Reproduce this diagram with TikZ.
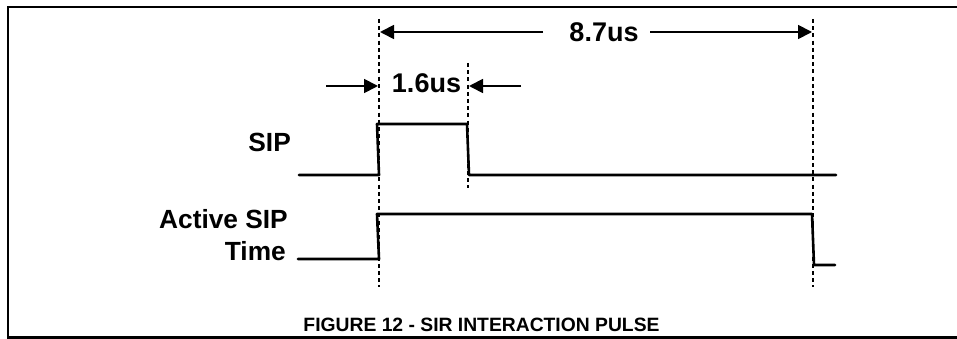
\documentclass[tikz,border=0pt]{standalone}
\usepackage{fontspec}
\setmainfont{Liberation Sans}
\usetikzlibrary{arrows.meta}
\tikzset{
  sig/.style={line width=2.6pt, line join=round, line cap=round},
  guide/.style={line width=1.8pt, dash pattern=on 4pt off 3.2pt},
  dim/.style={line width=1.8pt, -{Triangle[length=14pt,width=14pt]}},
  lbl/.style={font=\fontsize{26.3}{28}\selectfont\bfseries, inner sep=0pt, anchor=base east},
  val/.style={font=\fontsize{27}{29}\selectfont\bfseries, inner sep=0pt, anchor=base},
  captext/.style={font=\fontsize{19.3}{22}\selectfont\bfseries, inner sep=0pt, anchor=base}
}
\begin{document}
\begin{tikzpicture}[x=1pt,y=-1pt]
\useasboundingbox (0,0) rectangle (957,339);
% frame
\draw[line width=2.8pt] (958,7) -- (8,7) -- (8,337.5) -- (958,337.5);
% guides
\coordinate (g1t) at (379,19);  \coordinate (g1b) at (379,287);
\coordinate (g2t) at (468,63);  \coordinate (g2b) at (468,188);
\coordinate (g3t) at (813,19);  \coordinate (g3b) at (813,287);
\draw[guide] (g1t) -- (g1b);
\draw[guide] (g2t) -- (g2b);
\draw[guide] (g3t) -- (g3b);
% labels
\node[lbl] (sipl) at (291,152) {SIP};
\node[lbl] (actl) at (288,228) {Active SIP};
\node[lbl] (timel) at (286,260) {Time};
% dimension 8.7us
\node[val] (t87) at (604,41.7) {8.7us};
\coordinate (a1s) at (543,32); \coordinate (a1e) at (380,32);
\coordinate (a2s) at (650,32); \coordinate (a2e) at (812,32);
\draw[dim] (a1s) -- (a1e);
\draw[dim] (a2s) -- (a2e);
% dimension 1.6us
\node[val] (t16) at (426.5,93) {1.6us};
\coordinate (b1s) at (326,86); \coordinate (b1e) at (378,86);
\coordinate (b2s) at (521,86); \coordinate (b2e) at (469,86);
\draw[dim] (b1s) -- (b1e);
\draw[dim] (b2s) -- (b2e);
% SIP signal
\draw[sig] (299,175) -- (379,175) -- (377,124) -- (467,124) -- (469,175) -- (836,175);
% Active SIP signal
\draw[sig] (298,259) -- (379,259) -- (377,214) -- (812,214) -- (814,265) -- (835,265);
% caption
\node[captext] (capt) at (481.5,331) {FIGURE 12 - SIR INTERACTION PULSE};
\end{tikzpicture}
\end{document}
